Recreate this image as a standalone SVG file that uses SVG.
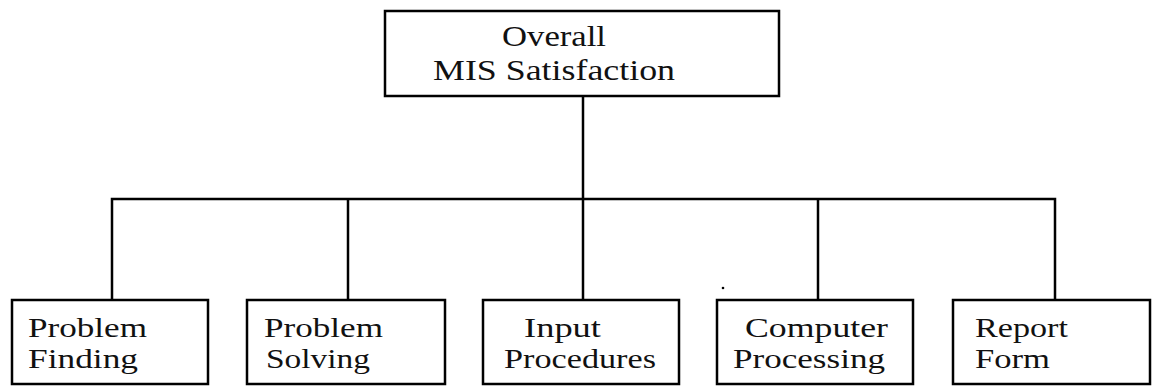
<svg xmlns="http://www.w3.org/2000/svg" width="1153" height="387" viewBox="0 0 1153 387">
<style>
.box{fill:#fff;stroke:#000;stroke-width:2.5}
.lbl{font-family:"Liberation Serif","Times New Roman",serif;font-size:28px;fill:#111}
.top{font-size:30px}
.con{fill:none;stroke:#000;stroke-width:2.5}
</style>
<rect width="1153" height="387" fill="#fff"/>
<g id="connectors">
<path class="con" d="M583 96 V300"/>
<path class="con" d="M112 300 V199 H1055 V300"/>
<path class="con" d="M348 199 V300"/>
<path class="con" d="M818 199 V300"/>
</g>
<g id="overall">
<rect class="box" x="385" y="11" width="394" height="85"/>
<text class="lbl top" x="502" y="46" textLength="104" lengthAdjust="spacingAndGlyphs">Overall</text>
<text class="lbl top" x="433" y="80" textLength="242" lengthAdjust="spacingAndGlyphs">MIS Satisfaction</text>
</g>
<g id="problem-finding">
<rect class="box" x="12" y="300" width="196" height="84"/>
<text class="lbl" x="28" y="337" textLength="119" lengthAdjust="spacingAndGlyphs">Problem</text>
<text class="lbl" x="28" y="368" textLength="110" lengthAdjust="spacingAndGlyphs">Finding</text>
</g>
<g id="problem-solving">
<rect class="box" x="247" y="300" width="198" height="84"/>
<text class="lbl" x="264" y="337" textLength="119" lengthAdjust="spacingAndGlyphs">Problem</text>
<text class="lbl" x="266" y="368" textLength="104" lengthAdjust="spacingAndGlyphs">Solving</text>
</g>
<g id="input-procedures">
<rect class="box" x="483" y="300" width="196" height="84"/>
<text class="lbl" x="524" y="337" textLength="77" lengthAdjust="spacingAndGlyphs">Input</text>
<text class="lbl" x="504" y="368" textLength="152" lengthAdjust="spacingAndGlyphs">Procedures</text>
</g>
<g id="computer-processing">
<rect class="box" x="717" y="300" width="196" height="84"/>
<text class="lbl" x="745" y="337" textLength="143" lengthAdjust="spacingAndGlyphs">Computer</text>
<text class="lbl" x="733" y="368" textLength="152" lengthAdjust="spacingAndGlyphs">Processing</text>
</g>
<g id="report-form">
<rect class="box" x="953" y="300" width="197" height="84"/>
<text class="lbl" x="975" y="337" textLength="93" lengthAdjust="spacingAndGlyphs">Report</text>
<text class="lbl" x="975" y="368" textLength="75" lengthAdjust="spacingAndGlyphs">Form</text>
</g>
<circle cx="723" cy="288" r="1.3" fill="#000"/>
</svg>
